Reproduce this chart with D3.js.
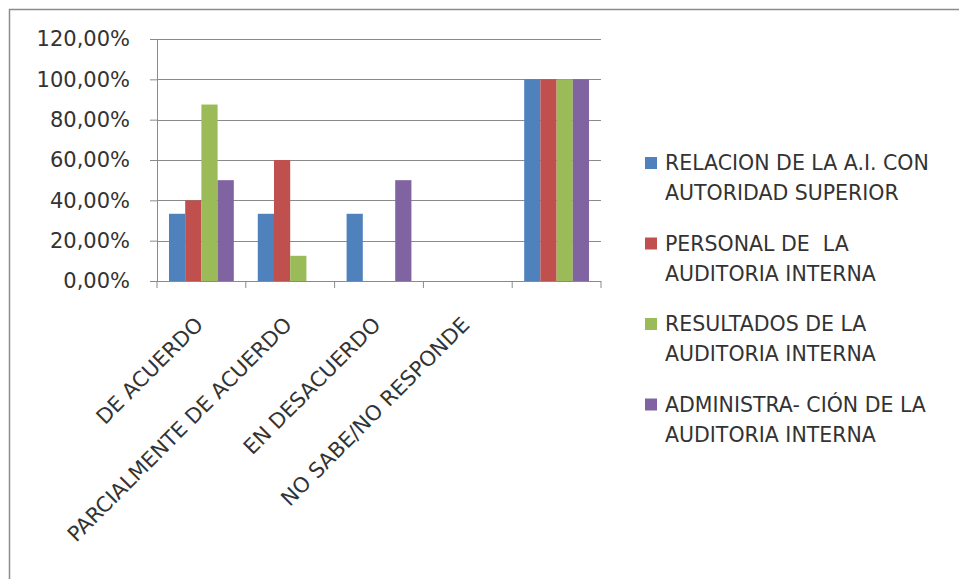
<!DOCTYPE html>
<html>
<head>
<meta charset="utf-8">
<script src="https://cdn.jsdelivr.net/npm/d3@7"></script>
<style>
  body { margin: 0; background: #fff; }
  text { font-family: "DejaVu Sans", sans-serif; fill: #333; }
</style>
</head>
<body>
<div id="chart"></div>
<script>
// DATA
var categories = ["DE ACUERDO", "PARCIALMENTE DE ACUERDO", "EN DESACUERDO", "NO SABE/NO RESPONDE", ""];
var seriesNames = [
  ["RELACION DE LA A.I. CON", "AUTORIDAD SUPERIOR"],
  ["PERSONAL DE  LA", "AUDITORIA INTERNA"],
  ["RESULTADOS DE LA", "AUDITORIA INTERNA"],
  ["ADMINISTRA- CIÓN DE LA", "AUDITORIA INTERNA"]
];
var relacion = [33.33, 33.33, 33.33, 0, 100];
var personal = [40, 60, 0, 0, 100];
var resultados = [87.5, 12.5, 0, 0, 100];
var administracion = [50, 0, 50, 0, 100];
var yTicks = [0, 20, 40, 60, 80, 100, 120];
var colors = ["#4F81BD", "#C0504D", "#9BBB59", "#8064A2"];

var allSeries = [relacion, personal, resultados, administracion];

var width = 959, height = 579;
var plot = { left: 157, right: 601, top: 39, bottom: 281 };

var svg = d3.select("#chart").append("svg")
  .attr("width", width)
  .attr("height", height);

// outer frame (only top and left edges fall inside the picture)
svg.append("rect")
  .attr("x", 9.5).attr("y", 9.5)
  .attr("width", width + 20).attr("height", height + 20)
  .attr("fill", "none")
  .attr("stroke", "#8c8c8c")
  .attr("stroke-width", 1.5);

var x0 = d3.scaleBand()
  .domain(d3.range(categories.length))
  .range([plot.left, plot.right])
  .paddingInner(0.27)
  .paddingOuter(0.135);

var x1 = d3.scaleBand()
  .domain(d3.range(allSeries.length))
  .range([0, x0.bandwidth()]);

var y = d3.scaleLinear().domain([0, 120]).range([plot.bottom, plot.top]);

// gridlines
svg.append("g")
  .selectAll("line")
  .data(yTicks.filter(function (d) { return d > 0; }))
  .enter()
  .append("line")
  .attr("x1", plot.left).attr("x2", plot.right)
  .attr("y1", function (d) { return Math.round(y(d)) + 0.5; })
  .attr("y2", function (d) { return Math.round(y(d)) + 0.5; })
  .attr("stroke", "#8a8a8a")
  .attr("stroke-width", 1.2);

// y axis
var yAxis = d3.axisLeft(y)
  .tickValues(yTicks)
  .tickSize(7)
  .tickPadding(20)
  .tickFormat(function (d) { return d.toFixed(2).replace(".", ",") + "%"; });

var yg = svg.append("g")
  .attr("transform", "translate(" + plot.left + ",0)")
  .call(yAxis);
yg.select(".domain").attr("stroke", "#8a8a8a");
yg.selectAll(".tick line").attr("stroke", "#8a8a8a");
yg.selectAll(".tick text")
  .style("font-family", "DejaVu Sans")
  .style("font-size", "21px")
  .style("fill", "#333");

// bars
var groups = svg.append("g")
  .selectAll("g")
  .data(categories.map(function (c, i) { return i; }))
  .enter()
  .append("g")
  .attr("transform", function (i) { return "translate(" + x0(i) + ",0)"; });

groups.selectAll("rect")
  .data(function (i) {
    return allSeries.map(function (s, k) { return { k: k, v: s[i] }; });
  })
  .enter()
  .append("rect")
  .attr("x", function (d) { return x1(d.k); })
  .attr("width", x1.bandwidth())
  .attr("y", function (d) { return y(d.v); })
  .attr("height", function (d) { return y(0) - y(d.v); })
  .attr("fill", function (d) { return colors[d.k]; });

// x axis line and ticks between categories
var step = (plot.right - plot.left) / categories.length;
svg.append("line")
  .attr("x1", plot.left - 7).attr("x2", plot.right)
  .attr("y1", plot.bottom + 0.5).attr("y2", plot.bottom + 0.5)
  .attr("stroke", "#8a8a8a").attr("stroke-width", 1.2);
svg.append("g")
  .selectAll("line")
  .data(d3.range(categories.length + 1))
  .enter()
  .append("line")
  .attr("x1", function (i) { return plot.left + i * step; })
  .attr("x2", function (i) { return plot.left + i * step; })
  .attr("y1", plot.bottom)
  .attr("y2", plot.bottom + 7)
  .attr("stroke", "#8a8a8a");

// category labels, rotated
svg.append("g")
  .selectAll("text")
  .data(categories)
  .enter()
  .append("text")
  .attr("text-anchor", "end")
  .attr("transform", function (d, i) {
    var cx = x0(i) + x0.bandwidth() / 2 + 3;
    return "translate(" + cx + "," + (plot.bottom + 45) + ") rotate(-45)";
  })
  .style("font-size", "21px")
  .text(function (d) { return d; });

// legend
var legend = svg.append("g")
  .selectAll("g")
  .data(seriesNames)
  .enter()
  .append("g")
  .attr("transform", function (d, i) { return "translate(645," + (163 + i * 80.5) + ")"; });

legend.append("rect")
  .attr("x", 0).attr("y", -6)
  .attr("width", 12).attr("height", 12)
  .attr("fill", function (d, i) { return colors[i]; });

legend.selectAll("text")
  .data(function (d) { return d; })
  .enter()
  .append("text")
  .attr("x", 20)
  .attr("y", function (d, j) { return j * 30; })
  .attr("dy", "0.35em")
  .style("font-size", "20.5px")
  .style("white-space", "pre")
  .text(function (d) { return d; });
</script>
</body>
</html>
